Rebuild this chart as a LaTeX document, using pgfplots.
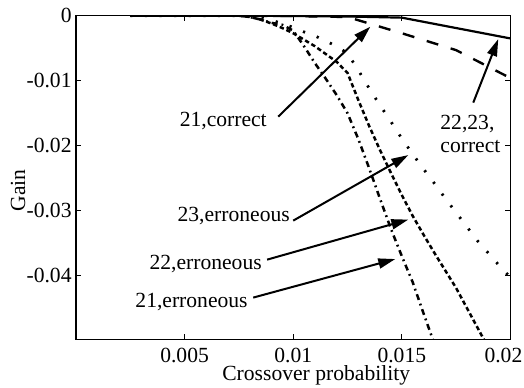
\documentclass[border=0pt]{standalone}
\usepackage{fontspec}
\setmainfont{Liberation Serif}
\usepackage{pgfplots}
\pgfplotsset{compat=1.18}
\usetikzlibrary{arrows.meta}

\begin{document}
\begin{tikzpicture}[font=\fontsize{10.8}{11.6}\selectfont]
\begin{axis}[
  scale only axis, width=217.2pt, height=161.8pt,
  xmin=0, xmax=0.02, ymin=-0.0498, ymax=0,
  xtick={0.005,0.01,0.015,0.02},
  xticklabels={0.005,0.01,0.015,{\makebox[0pt]{0.02\kern7pt}}},
  ytick={-0.04,-0.03,-0.02,-0.01,0},
  yticklabels={-0.04,-0.03,-0.02,-0.01,0},
  scaled ticks=false,
  tick align=inside, tick pos=both, major tick length=2.5pt,
  every tick/.style={black, line width=0.6pt},
  axis line style={line width=0.8pt},
  xticklabel style={inner sep=0pt, anchor=north, yshift=-4pt},
  yticklabel style={inner sep=0pt, anchor=east, xshift=-2pt},
  xlabel={Crossover probability}, ylabel={Gain},
  xlabel style={at={(axis description cs:0.553,-0.112)}, anchor=center, inner sep=0pt},
  ylabel style={at={(axis description cs:-0.1336,0.46)}, anchor=center, inner sep=0pt},
  clip mode=individual,
]
% 22,23 correct (solid)
\addplot[black, line width=1.1pt] coordinates {
(0.0025,0) (0.005,0) (0.0075,0) (0.01,-0.00005) (0.0125,-0.00012) (0.015,-0.0003) (0.02,-0.0035)};
% 21 correct (dashed)
\addplot[black, line width=1.2pt, dash pattern=on 6pt off 6.5pt] coordinates {
(0.0025,0) (0.005,0) (0.0075,0) (0.01,-0.00005) (0.0125,-0.0002) (0.015,-0.0027) (0.0175,-0.0053) (0.02,-0.0096)};
% 21 erroneous (dash-dot)
\addplot[black, line width=1.25pt, dash pattern=on 3pt off 2pt on 0.9pt off 2pt] coordinates {
(0.0025,0) (0.0075,0) (0.008,-0.0002) (0.0085,-0.0006) (0.009,-0.0011) (0.0095,-0.0014)
(0.01,-0.0023) (0.0105,-0.0047) (0.011,-0.0073) (0.0115,-0.0097) (0.012,-0.0122)
(0.0125,-0.0150) (0.013,-0.0190) (0.0135,-0.0235) (0.014,-0.0282) (0.0145,-0.0328)
(0.015,-0.0370) (0.0155,-0.0410) (0.016,-0.0458) (0.0165,-0.0505) (0.017,-0.0550)};
% 22 erroneous (densely dashed)
\addplot[black, line width=1.25pt, dash pattern=on 2.2pt off 1.4pt] coordinates {
(0.0025,0) (0.0075,0) (0.008,-0.0002) (0.0085,-0.0006) (0.009,-0.0012) (0.0095,-0.0019)
(0.01,-0.0027) (0.0105,-0.0037) (0.011,-0.0047) (0.0115,-0.0059) (0.012,-0.0071)
(0.0125,-0.0088) (0.013,-0.0130) (0.0135,-0.0170) (0.014,-0.0207) (0.0145,-0.0242)
(0.015,-0.0276) (0.0155,-0.0308) (0.016,-0.0337) (0.0165,-0.0365) (0.017,-0.0392)
(0.0175,-0.0419) (0.018,-0.0450) (0.0185,-0.0481) (0.019,-0.0512)};
% 23 erroneous (sparse dotted)
\addplot[black, line width=1.4pt, dash pattern=on 1.1pt off 6.2pt] coordinates {
(0.0025,0) (0.008,0) (0.0085,-0.0003) (0.009,-0.0007) (0.0095,-0.0012) (0.01,-0.0018)
(0.0105,-0.0025) (0.011,-0.0031) (0.0115,-0.0039) (0.012,-0.0047) (0.0125,-0.0058)
(0.013,-0.0084) (0.0135,-0.0112) (0.014,-0.0138) (0.0145,-0.0163) (0.015,-0.0189)
(0.0155,-0.0213) (0.016,-0.0236) (0.0165,-0.0258) (0.017,-0.0281) (0.0175,-0.0303)
(0.018,-0.0325) (0.0185,-0.0347) (0.019,-0.0366) (0.0195,-0.0385) (0.02,-0.0403)};

% arrows
\draw[line width=1pt, -{Triangle[length=8.5pt,width=5pt]}] (axis cs:0.00931,-0.01554) -- (axis cs:0.01355,-0.00169);
\draw[line width=1pt, -{Triangle[length=8.5pt,width=5pt]}] (axis cs:0.01829,-0.01338) -- (axis cs:0.01944,-0.0036);
\draw[line width=1pt, -{Triangle[length=8.5pt,width=5pt]}] (axis cs:0.0100,-0.03154) -- (axis cs:0.0153,-0.02145);
\draw[line width=1pt, -{Triangle[length=8.5pt,width=5pt]}] (axis cs:0.0088,-0.03754) -- (axis cs:0.0153,-0.03138);
\draw[line width=1pt, -{Triangle[length=8.5pt,width=5pt]}] (axis cs:0.00816,-0.04338) -- (axis cs:0.0147,-0.03745);

% labels
\node[anchor=east, inner sep=0pt] at (axis cs:0.0088,-0.01615) {21,correct};
\node[anchor=west, inner sep=0pt, align=left] at (axis cs:0.01676,-0.01823) {22,23,\\correct};
\node[anchor=east, inner sep=0pt] at (axis cs:0.00986,-0.0309) {23,erroneous};
\node[anchor=east, inner sep=0pt] at (axis cs:0.00857,-0.0382) {22,erroneous};
\node[anchor=east, inner sep=0pt] at (axis cs:0.00792,-0.0440) {21,erroneous};
\end{axis}
\pgfresetboundingbox
\path (current axis.south west) ++(-38pt,-23.85pt) rectangle ++(262pt,193.5pt);
\end{tikzpicture}
\end{document}
